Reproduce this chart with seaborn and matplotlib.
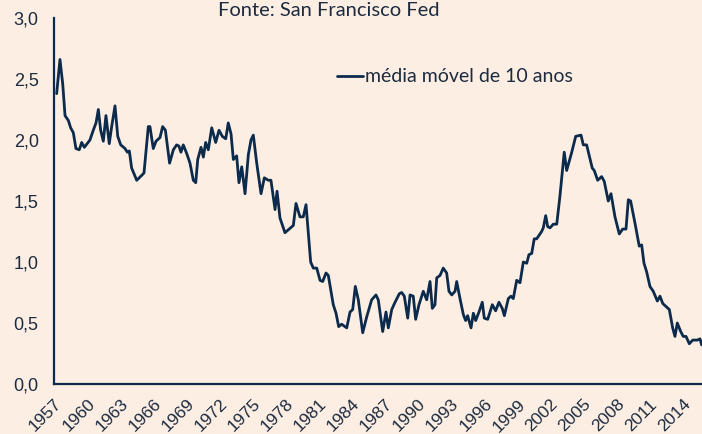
import matplotlib
matplotlib.use("Agg")
import matplotlib.pyplot as plt
import seaborn as sns
import pandas as pd
from matplotlib.ticker import FuncFormatter

# --- data (decimal year, value) ---
anos = [1957.24, 1957.54, 1957.79, 1958.00, 1958.30, 1958.51, 1958.75, 1958.99, 1959.29, 1959.51,
        1959.75, 1960.26, 1960.56, 1960.81, 1961.02, 1961.23, 1961.47, 1961.71, 1962.01, 1962.23,
        1962.53, 1962.78, 1963.05, 1963.44, 1963.65, 1963.83, 1964.04, 1964.50, 1964.95, 1965.16,
        1965.55, 1965.70, 1966.00, 1966.25, 1966.61, 1966.85, 1967.10, 1967.48, 1967.82, 1968.12,
        1968.33, 1968.51, 1968.72, 1969.03, 1969.33, 1969.63, 1969.85, 1970.03, 1970.33, 1970.54,
        1970.75, 1970.99, 1971.30, 1971.66, 1971.96, 1972.26, 1972.57, 1972.80, 1973.05, 1973.26,
        1973.56, 1973.77, 1974.02, 1974.32, 1974.62, 1974.86, 1975.07, 1975.38, 1975.77, 1976.07,
        1976.43, 1976.67, 1977.04, 1977.22, 1977.49, 1977.94, 1978.70, 1978.94, 1979.30, 1979.60,
        1979.85, 1980.27, 1980.51, 1980.82, 1981.12, 1981.36, 1981.66, 1981.87, 1982.32, 1982.57,
        1982.81, 1983.08, 1983.54, 1983.84, 1984.08, 1984.32, 1984.59, 1984.99, 1985.35, 1985.80,
        1986.19, 1986.40, 1986.80, 1987.10, 1987.31, 1987.62, 1987.92, 1988.31, 1988.52, 1988.76,
        1989.07, 1989.28, 1989.57, 1989.79, 1990.09, 1990.48, 1990.79, 1991.09, 1991.30, 1991.54,
        1991.70, 1992.00, 1992.29, 1992.60, 1992.81, 1993.06, 1993.36, 1993.51, 1993.81, 1994.11,
        1994.32, 1994.50, 1994.81, 1995.02, 1995.23, 1995.53, 1995.83, 1996.01, 1996.32, 1996.74,
        1997.04, 1997.34, 1997.64, 1997.83, 1998.19, 1998.43, 1998.64, 1998.95, 1999.25, 1999.55,
        1999.86, 2000.06, 2000.31, 2000.54, 2000.76, 2001.21, 2001.36, 2001.58, 2001.76, 2001.97,
        2002.27, 2002.58, 2002.87, 2003.26, 2003.48, 2003.94, 2004.30, 2004.78, 2004.99, 2005.29,
        2005.80, 2005.98, 2006.29, 2006.65, 2006.89, 2007.25, 2007.50, 2007.86, 2008.25, 2008.56,
        2008.86, 2009.07, 2009.28, 2009.67, 2010.06, 2010.28, 2010.49, 2010.73, 2011.03, 2011.33,
        2011.70, 2011.94, 2012.19, 2012.55, 2012.79, 2013.09, 2013.30, 2013.51, 2013.82, 2014.05,
        2014.30, 2014.60, 2014.91, 2015.32, 2015.57, 2015.72]
valores = [2.38, 2.66, 2.46, 2.20, 2.16, 2.10, 2.06, 1.93, 1.92, 1.98,
           1.94, 2.00, 2.08, 2.14, 2.25, 2.08, 1.99, 2.20, 1.97, 2.11,
           2.28, 2.03, 1.96, 1.93, 1.90, 1.91, 1.77, 1.67, 1.71, 1.73,
           2.11, 2.11, 1.93, 1.99, 2.02, 2.11, 2.08, 1.81, 1.92, 1.96,
           1.95, 1.90, 1.96, 1.89, 1.81, 1.67, 1.65, 1.84, 1.94, 1.86,
           1.98, 1.92, 2.10, 1.98, 2.08, 2.03, 2.01, 2.14, 2.05, 1.84,
           1.87, 1.65, 1.78, 1.56, 1.88, 2.00, 2.04, 1.81, 1.56, 1.69,
           1.67, 1.67, 1.43, 1.58, 1.36, 1.24, 1.30, 1.48, 1.37, 1.37,
           1.47, 1.00, 0.95, 0.95, 0.85, 0.84, 0.91, 0.89, 0.65, 0.58,
           0.47, 0.49, 0.46, 0.59, 0.61, 0.80, 0.69, 0.42, 0.55, 0.69,
           0.73, 0.69, 0.43, 0.59, 0.46, 0.61, 0.67, 0.74, 0.75, 0.72,
           0.54, 0.73, 0.72, 0.53, 0.65, 0.76, 0.69, 0.84, 0.62, 0.65,
           0.87, 0.89, 0.95, 0.91, 0.76, 0.73, 0.76, 0.84, 0.70, 0.57,
           0.52, 0.56, 0.46, 0.58, 0.52, 0.59, 0.67, 0.54, 0.53, 0.65,
           0.60, 0.67, 0.62, 0.56, 0.70, 0.72, 0.70, 0.85, 0.83, 1.00,
           0.99, 1.06, 1.07, 1.19, 1.19, 1.25, 1.28, 1.38, 1.29, 1.28,
           1.31, 1.31, 1.54, 1.90, 1.75, 1.90, 2.03, 2.04, 1.96, 1.96,
           1.77, 1.75, 1.67, 1.70, 1.66, 1.50, 1.56, 1.37, 1.23, 1.27,
           1.27, 1.51, 1.50, 1.32, 1.13, 1.14, 0.99, 0.92, 0.80, 0.76,
           0.68, 0.72, 0.66, 0.63, 0.61, 0.46, 0.39, 0.50, 0.43, 0.39,
           0.39, 0.33, 0.36, 0.36, 0.37, 0.32]
serie_label = "média móvel de 10 anos"
titulo = "Fonte: San Francisco Fed"
xticks = list(range(1957, 2015, 3))
yticks = [0.0, 0.5, 1.0, 1.5, 2.0, 2.5, 3.0]

BG = "#FCEEE2"
NAVY = "#0B2A4C"
TXT = "#1C2B40"

df = pd.DataFrame({"ano": anos, "valor": valores})

sns.set_style("white")
plt.rcParams["font.family"] = ["Liberation Sans", "DejaVu Sans"]

fig = plt.figure(figsize=(7.02, 4.34), dpi=100, facecolor=BG)
ax = fig.add_axes([54 / 702, 50 / 434, 1 - 54 / 702, (384 - 18) / 434])
ax.set_facecolor(BG)

sns.lineplot(data=df, x="ano", y="valor", ax=ax, color=NAVY, linewidth=2.0,
             sort=False, estimator=None, label=serie_label)

ax.set_xlim(1957, 2015.75)
ax.set_ylim(0, 3.0)
ax.set_xticks(xticks)
ax.set_yticks(yticks)
ax.yaxis.set_major_formatter(FuncFormatter(lambda v, p: f"{v:.1f}".replace(".", ",")))
ax.set_xlabel("")
ax.set_ylabel("")

for s in ["top", "right"]:
    ax.spines[s].set_visible(False)
for s in ["left", "bottom"]:
    ax.spines[s].set_color(NAVY)
    ax.spines[s].set_linewidth(1.6)

ax.tick_params(axis="both", direction="out", length=5, width=1.6, color=NAVY,
               labelcolor=TXT, labelsize=13)
ax.tick_params(axis="y", pad=6)
ax.tick_params(axis="x", pad=4, labelsize=12.5)
for lab in ax.get_xticklabels():
    lab.set_rotation(45)
    lab.set_ha("right")
    lab.set_rotation_mode("anchor")

leg = ax.legend(loc="center left", bbox_to_anchor=(337 / 702, 1 - 77 / 434),
                bbox_transform=fig.transFigure, frameon=False, handlelength=1.35,
                handletextpad=0.1, borderpad=0, borderaxespad=0,
                prop={"family": "Lato", "size": 14})
for t in leg.get_texts():
    t.set_color(TXT)

fig.text(329 / 702, 1 - 10 / 434, titulo, ha="center", va="center",
         fontsize=14.5, family="Lato", color=TXT)

fig.savefig("out.png", dpi=100, facecolor=BG)
